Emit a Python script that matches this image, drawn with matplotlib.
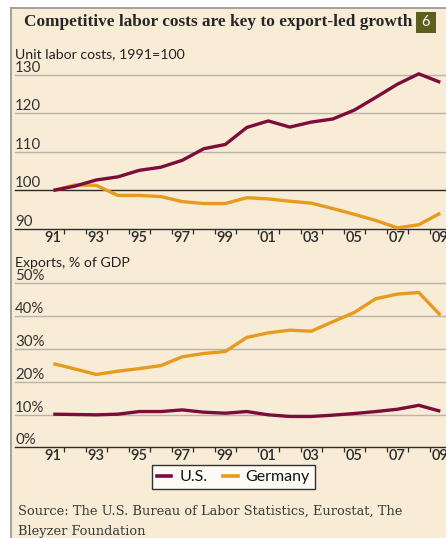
import matplotlib
matplotlib.use("Agg")
import matplotlib.pyplot as plt
from matplotlib import transforms
from matplotlib.patches import Rectangle
from matplotlib.lines import Line2D

# ---------------- data ----------------
years = list(range(1991, 2010))
tick_years = [1991, 1993, 1995, 1997, 1999, 2001, 2003, 2005, 2007, 2009]
tick_labels = ["91", "93", "95", "97", "99", "01", "03", "05", "07", "09"]

ulc_us = [100.0, 101.1, 102.7, 103.5, 105.2, 106.0, 107.8, 110.8, 111.9, 116.3,
          118.0, 116.4, 117.7, 118.5, 120.8, 124.1, 127.5, 130.2, 128.0]
ulc_de = [100.0, 101.4, 101.3, 98.7, 98.7, 98.4, 97.1, 96.6, 96.6, 98.1,
          97.8, 97.2, 96.7, 95.3, 93.8, 92.2, 90.3, 91.1, 94.1]

exp_us = [10.1, 10.0, 9.9, 10.1, 10.9, 10.9, 11.4, 10.7, 10.4, 10.9,
          9.9, 9.4, 9.4, 9.8, 10.3, 10.9, 11.6, 12.8, 11.0]
exp_de = [25.5, 23.9, 22.2, 23.2, 24.0, 24.9, 27.6, 28.6, 29.2, 33.5,
          34.9, 35.7, 35.4, 38.3, 41.1, 45.3, 46.7, 47.2, 40.3]

ulc_ticks = [90, 100, 110, 120, 130]
exp_ticks = [0, 10, 20, 30, 40, 50]
exp_tick_labels = ["0%", "10%", "20%", "30%", "40%", "50%"]

title = "Competitive labor costs are key to export-led growth"
sub1 = "Unit labor costs, 1991=100"
sub2 = "Exports, % of GDP"
source1 = "Source: The U.S. Bureau of Labor Statistics, Eurostat, The"
source2 = "Bleyzer Foundation"

# ---------------- style ----------------
W, H = 446, 538
DPI = 100
BG = "#f9ecd6"
US_C = "#7b0c3b"
DE_C = "#e79b1e"
GRID_C = "#b8b3ab"
DARK = "#2b2b2b"
TXT = "#333333"
SANS = ["Lato", "DejaVu Sans"]

fig = plt.figure(figsize=(W / DPI, H / DPI), dpi=DPI)
fig.patch.set_facecolor("white")

def fx(px):
    return px / W

def fy(py):
    return 1 - py / H

# cream panel with border
fig.patches.append(Rectangle((fx(11), 0), 1 - fx(11), fy(7.5), transform=fig.transFigure,
                             facecolor=BG, edgecolor="none", zorder=-5))
fig.lines.append(Line2D([fx(11), fx(11)], [0, fy(7.5)], transform=fig.transFigure,
                        color="#9a9a9a", lw=1.3, zorder=-4))
fig.lines.append(Line2D([fx(11), 1], [fy(7.5), fy(7.5)], transform=fig.transFigure,
                        color="#9a9a9a", lw=1.3, zorder=-4))

# title, auto-fitted to its width
renderer = fig.canvas.get_renderer()
t = fig.text(fx(24), fy(22), title, fontsize=13, fontweight="bold",
             family=["Liberation Serif"], color="#262626", va="center", ha="left")
w = t.get_window_extent(renderer).width
t.set_fontsize(13 * 386 / w)

# "6" badge
fig.patches.append(Rectangle((fx(416), fy(33)), fx(20), fy(12) - fy(33), transform=fig.transFigure,
                             facecolor="#5b5f1d", edgecolor="none"))
fig.text(fx(426), fy(22.5), "6", color="white", fontsize=10.5, family=SANS,
         ha="center", va="center")

x_left = 1991 - (53.3 - 15) / 21.5
x_right = 1991 + (446 - 53.3) / 21.5


def make_axes(top_px, bottom_px):
    ax = fig.add_axes([fx(15), fy(bottom_px), 1 - fx(15), (bottom_px - top_px) / H])
    ax.set_facecolor("none")
    ax.set_zorder(2)
    for s in ax.spines.values():
        s.set_visible(False)
    ax.set_xlim(x_left, x_right)
    ax.set_yticks([])
    ax.set_xticks([y + 0.5 for y in years[:-1]])
    ax.set_xticklabels([])
    ax.tick_params(axis="x", length=3.5, width=0.9, color=DARK, direction="out")
    off = transforms.offset_copy(ax.get_xaxis_transform(), fig=fig, x=0, y=-9, units="dots")
    for yr, lab in zip(tick_years, tick_labels):
        ax.text(yr, 0, lab, transform=off, ha="center", va="center", fontsize=10.5,
                fontweight="semibold", family=SANS, color=DARK, clip_on=False)
    return ax


def gridlines(ax, ticks, labels, dark):
    for v, lab in zip(ticks, labels):
        c = DARK if v in dark else GRID_C
        ax.axhline(v, color=c, lw=1.0, zorder=1, clip_on=False)
        ax.text(0, v, lab, transform=ax.get_yaxis_transform(), ha="left", va="bottom",
                fontsize=10.8, family=SANS, color=TXT)


# top panel
ax1 = make_axes(74.6, 229)
ax1.set_ylim(90, 130)
gridlines(ax1, ulc_ticks, [str(v) for v in ulc_ticks], dark=(90, 100))
ax1.plot(years, ulc_de, color=DE_C, lw=2.4, zorder=3, clip_on=False, solid_capstyle="butt")
ax1.plot(years, ulc_us, color=US_C, lw=2.4, zorder=4, clip_on=False, solid_capstyle="butt")
fig.text(fx(15), fy(54), sub1, fontsize=10.2, family=SANS, color="#222222", va="center", ha="left")

# bottom panel
ax2 = make_axes(283.3, 447.3)
ax2.set_ylim(0, 50)
gridlines(ax2, exp_ticks, exp_tick_labels, dark=(0,))
ax2.plot(years, exp_de, color=DE_C, lw=2.4, zorder=3, clip_on=False, solid_capstyle="butt")
ax2.plot(years, exp_us, color=US_C, lw=2.4, zorder=4, clip_on=False, solid_capstyle="butt")
fig.text(fx(15), fy(263), sub2, fontsize=10.2, family=SANS, color="#222222", va="center", ha="left")

# legend
handles = [Line2D([], [], color=US_C, lw=2.6), Line2D([], [], color=DE_C, lw=2.6)]
leg = fig.legend(handles, ["U.S.", "Germany"], loc="center", bbox_to_anchor=(fx(233.5), fy(477)),
                 ncol=2, frameon=True, fancybox=False, handlelength=0.9, handletextpad=0.5,
                 columnspacing=1.0, borderpad=0.3, prop={"family": SANS, "size": 11.5})
leg.get_frame().set_edgecolor("black")
leg.get_frame().set_linewidth(1.0)
leg.get_frame().set_facecolor("white")
for tx in leg.get_texts():
    tx.set_color("#111111")

# source
s1 = fig.text(fx(18), fy(511), source1, fontsize=10, family=["DejaVu Serif"],
              color="#3a3a3a", va="center", ha="left")
w = s1.get_window_extent(renderer).width
fs = 10 * 386 / w
s1.set_fontsize(fs)
fig.text(fx(18), fy(532), source2, fontsize=fs, family=["DejaVu Serif"],
         color="#3a3a3a", va="center", ha="left")

fig.savefig("out.png", dpi=DPI, facecolor="white")
